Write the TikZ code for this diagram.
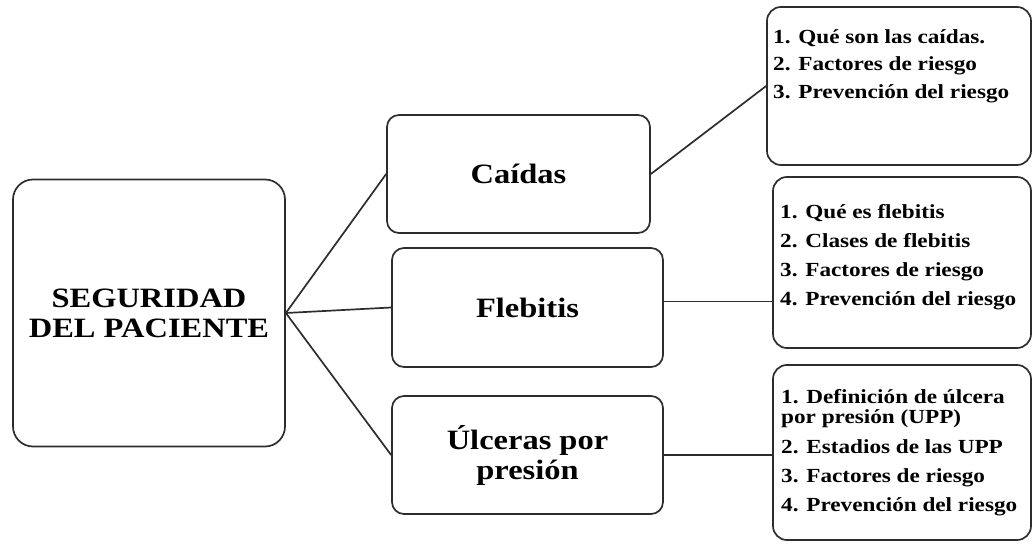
\documentclass[tikz,border=0pt]{standalone}
\usepackage{fontspec}
\setmainfont{Liberation Serif}[FakeStretch=1.16]
\definecolor{boxline}{RGB}{45, 45, 45}
\usetikzlibrary{positioning}

\begin{document}
\begin{tikzpicture}[x=1pt, y=-1pt,
  topicbox/.style={draw=boxline, line width=1.7pt, rounded corners=12pt, align=center, font=\fontsize{28}{30}\selectfont\bfseries},
  listbox/.style={draw=boxline, line width=1.7pt, rounded corners=14pt},
  listtext/.style={anchor=north west, inner sep=0pt, align=left, font=\fontsize{20}{20}\selectfont\bfseries},
  link/.style={draw=boxline, line width=1.7pt}]
  \useasboundingbox (0,0) rectangle (1034,545);

  % Main topic
  \node[topicbox, rounded corners=20pt, minimum width=272pt, minimum height=267pt] (patient) at (149,313) {SEGURIDAD\\DEL PACIENTE};

  % Topics
  \node[topicbox, minimum width=263pt, minimum height=118pt] (caidas) at (518.5,174) {Caídas};
  \node[topicbox, minimum width=271pt, minimum height=119pt] (flebitis) at (527.5,307.5) {Flebitis};
  \node[topicbox, minimum width=271pt, minimum height=118pt] (ulceras) at (527.5,455) {Úlceras por\\presión};

  % Contents
  \node[listbox, minimum width=264pt, minimum height=158pt] (caidaslist) at (899,86) {};
  \node[listtext] (caidastext) at (773,29) {1. Qué son las caídas.\\[7pt]2. Factores de riesgo\\[8pt]3. Prevención del riesgo};

  \node[listbox, minimum width=258pt, minimum height=171pt] (flebitislist) at (902,262.5) {};
  \node[listtext] (flebitistext) at (780,204) {1. Qué es flebitis\\[9pt]2. Clases de flebitis\\[9pt]3. Factores de riesgo\\[9pt]4. Prevención del riesgo};

  \node[listbox, minimum width=258pt, minimum height=175pt] (ulceraslist) at (902,452.5) {};
  \node[listtext] (ulcerastext) at (781,389) {1. Definición de úlcera\\por presión (UPP)\\[10pt]2. Estadios de las UPP\\[9pt]3. Factores de riesgo\\[9pt]4. Prevención del riesgo};

  % Links
  \draw[link] (patient.east) -- (caidas.west);
  \draw[link] (patient.east) -- (flebitis.west);
  \draw[link] (patient.east) -- (ulceras.west);
  \draw[link] (caidas.east) -- (caidaslist.west);
  \coordinate (flebout) at ([yshift=6pt]flebitis.east);
  \draw[link] (flebout) -- (flebout -| flebitislist.west);
  \draw[link] (ulceras.east) -- (ulceras.east -| ulceraslist.west);
\end{tikzpicture}
\end{document}
